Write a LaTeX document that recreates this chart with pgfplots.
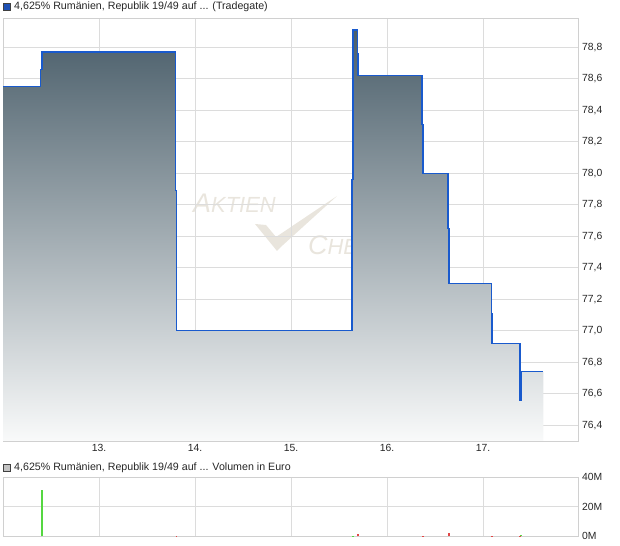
\documentclass[border=0pt]{standalone}
\usepackage{fontspec}
\setmainfont{Liberation Sans}
\usepackage{pgfplots}
\pgfplotsset{compat=1.18}
\definecolor{gridc}{RGB}{220,220,220}
\definecolor{framec}{RGB}{208,208,208}
\definecolor{lineblue}{RGB}{25,90,205}
\definecolor{topc}{RGB}{74,94,106}
\definecolor{botc}{RGB}{249,250,250}
\definecolor{wm}{RGB}{233,229,221}
\definecolor{volgreen}{RGB}{85,215,65}
\definecolor{volred}{RGB}{225,70,70}
\definecolor{sqblue}{RGB}{30,80,180}
\definecolor{sqgray}{RGB}{195,195,195}

\begin{document}
\begin{tikzpicture}[x=1bp,y=1bp]
\path[use as bounding box] (0,0) rectangle (620,546);
% titles
\filldraw[fill=sqblue, draw=black!75, line width=0.6bp] (3.5,535.5) rectangle (10.5,542.5);
\node[anchor=west, font=\fontsize{10.7}{12}\selectfont, inner sep=0pt, text=black!85] at (14,539) {4,625\% Rumänien, Republik 19/49 auf ... (Tradegate)};
\filldraw[fill=sqgray, draw=black!75, line width=0.6bp] (3.5,74.5) rectangle (10.5,81.5);
\node[anchor=west, font=\fontsize{10.7}{12}\selectfont, inner sep=0pt, text=black!85] at (14,78) {4,625\% Rumänien, Republik 19/49 auf ... Volumen in Euro};
% watermark
\node[anchor=base west, inner sep=0pt, text=wm, font=\itshape] at (193,333) {\fontsize{27}{28}\selectfont A\fontsize{22}{24}\selectfont KTIEN};
\node[anchor=base west, inner sep=0pt, text=wm, font=\itshape] at (308,291) {\fontsize{27}{28}\selectfont C\fontsize{22}{24}\selectfont HECK};
\fill[wm] (255,322) -- (266,321) -- (276,309) -- (337,350) -- (283,301) -- (277,295) -- cycle;

\pgfplotsset{priceaxis/.style={
  at={(3bp,105bp)}, anchor=south west,
  scale only axis, width=575bp, height=423bp,
  xmin=12, xmax=17.99, ymin=76.3, ymax=78.986}}

\begin{axis}[
  priceaxis,
  axis line style={framec, line width=0.8bp},
  grid=major, major grid style={gridc, line width=0.8bp},
  xtick={13,14,15,16,17}, xticklabels={13.,14.,15.,16.,17.},
  ytick={76.4,76.6,76.8,77.0,77.2,77.4,77.6,77.8,78.0,78.2,78.4,78.6,78.8},
  yticklabel pos=right,
  major tick length=0pt,
  tick style={draw=none},
  ticklabel style={font=\fontsize{10.4}{12}\selectfont, text=black!85},
  yticklabel style={anchor=west, inner sep=0pt, xshift=4bp,
    /pgf/number format/use comma, /pgf/number format/fixed,
    /pgf/number format/fixed zerofill, /pgf/number format/precision=1,
    /pgf/number format/assume math mode=true},
  xticklabel style={anchor=north, inner sep=0pt, yshift=-3bp,
    /pgf/number format/assume math mode=true},
]
\addplot[const plot, draw=none, top color=topc, bottom color=botc] coordinates {
(12.0,76.3) (12.0,78.55) (12.393,78.66) (12.406,78.77) (13.796,77.89) (13.806,77.0)
(15.635,77.96) (15.646,78.91) (15.692,78.76) (15.698,78.62) (16.365,78.31) (16.375,78.0)
(16.635,77.65) (16.646,77.30) (17.088,77.11) (17.094,76.92) (17.385,76.56) (17.396,76.74)
(17.629,76.74) (17.629,76.3)
};
\end{axis}

\begin{axis}[priceaxis, hide axis]
\addplot[const plot, lineblue, line width=1.35bp] coordinates {
(12.0,78.55) (12.393,78.66) (12.406,78.77) (13.796,77.89) (13.806,77.0)
(15.635,77.96) (15.646,78.91) (15.692,78.76) (15.698,78.62) (16.365,78.31) (16.375,78.0)
(16.635,77.65) (16.646,77.30) (17.088,77.11) (17.094,76.92) (17.385,76.56) (17.396,76.74)
(17.629,76.74)
};
\end{axis}

\begin{axis}[
  at={(3bp,9.7bp)}, anchor=south west,
  scale only axis, width=575bp, height=59bp,
  xmin=12, xmax=17.99, ymin=0, ymax=40,
  axis line style={framec, line width=0.8bp},
  grid=major, major grid style={gridc, line width=0.8bp},
  xtick={13,14,15,16,17}, xticklabels={},
  ytick={0,20,40}, yticklabels={0M,20M,40M},
  yticklabel pos=right,
  major tick length=0pt,
  tick style={draw=none},
  ticklabel style={font=\fontsize{10.4}{12}\selectfont, text=black!85},
  yticklabel style={anchor=west, inner sep=0pt, xshift=4bp},
]
\addplot[ycomb, volgreen, line width=1.4bp] coordinates {
(12.406,31.4) (15.646,0.4) (17.396,0.6)
};
\addplot[ycomb, volred, line width=1.4bp] coordinates {
(13.806,0.4) (15.698,1.3) (16.375,0.4) (16.646,2.0) (17.094,0.4) (17.385,0.4)
};
\end{axis}
\end{tikzpicture}
\end{document}
